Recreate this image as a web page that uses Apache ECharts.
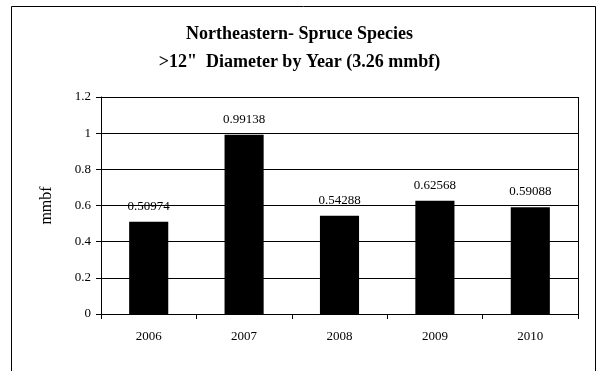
<!DOCTYPE html>
<html><head><meta charset="utf-8">
<script src="https://cdn.jsdelivr.net/npm/echarts@6/dist/echarts.min.js"></script>
<style>html,body{margin:0;padding:0;background:#fff}#c{width:599px;height:371px}</style>
</head><body><div id="c"></div>
<script>
const categories = ['2006','2007','2008','2009','2010'];
const values = [0.50974, 0.99138, 0.54288, 0.62568, 0.59088];
const labels = ['0.50974','0.99138','0.54288','0.62568','0.59088'];
const titleLines = ['Northeastern- Spruce Species', '>12"  Diameter by Year (3.26 mmbf)'];
const yName = 'mmbf';

const F = '"Liberation Serif","Times New Roman",serif';
const chart = echarts.init(document.getElementById('c'));
chart.setOption({
  animation: false,
  backgroundColor: '#fff',
  graphic: [
    {type:'rect', shape:{x:11.5,y:6.5,width:584,height:400}, style:{fill:'none',stroke:'#000',lineWidth:1}, z:-1},
    {type:'line', shape:{x1:101,y1:97.5,x2:578,y2:97.5}, style:{stroke:'#000',lineWidth:1}},
    {type:'line', shape:{x1:578.5,y1:97,x2:578.5,y2:314}, style:{stroke:'#000',lineWidth:1}}
  ],
  title: {
    text: titleLines.join('\n'), left: 'center', top: 15,
    textStyle: {fontFamily: F, fontWeight: 'bold', fontSize: 18, color: '#000', lineHeight: 28}
  },
  grid: {left: 101, right: 21, top: 97, bottom: 57, containLabel: false},
  xAxis: {
    type: 'category', data: categories,
    axisLine: {lineStyle: {color: '#000', width: 1}},
    axisTick: {show: true, inside: false, length: 5, lineStyle: {color: '#000'}},
    axisLabel: {fontFamily: F, fontSize: 13, color: '#000', margin: 16}
  },
  yAxis: {
    type: 'value', min: 0, max: 1.2, interval: 0.2,
    name: yName, nameLocation: 'middle', nameGap: 46, nameRotate: 90,
    nameTextStyle: {fontFamily: F, fontSize: 16, color: '#000'},
    axisLine: {show: true, lineStyle: {color: '#000'}},
    axisTick: {show: true, length: 5, lineStyle: {color: '#000'}},
    axisLabel: {fontFamily: F, fontSize: 13, color: '#000', margin: 10,
      formatter: v => (Math.round(v*10)/10).toString()},
    splitLine: {show: true, lineStyle: {color: '#000', width: 1}}
  },
  series: [{
    type: 'bar', data: values, barWidth: '41%',
    itemStyle: {color: '#000'},
    label: {show: true, position: 'top', distance: 9, fontFamily: F, fontSize: 13, color: '#000',
      formatter: p => labels[p.dataIndex]}
  }]
});
</script></body></html>
